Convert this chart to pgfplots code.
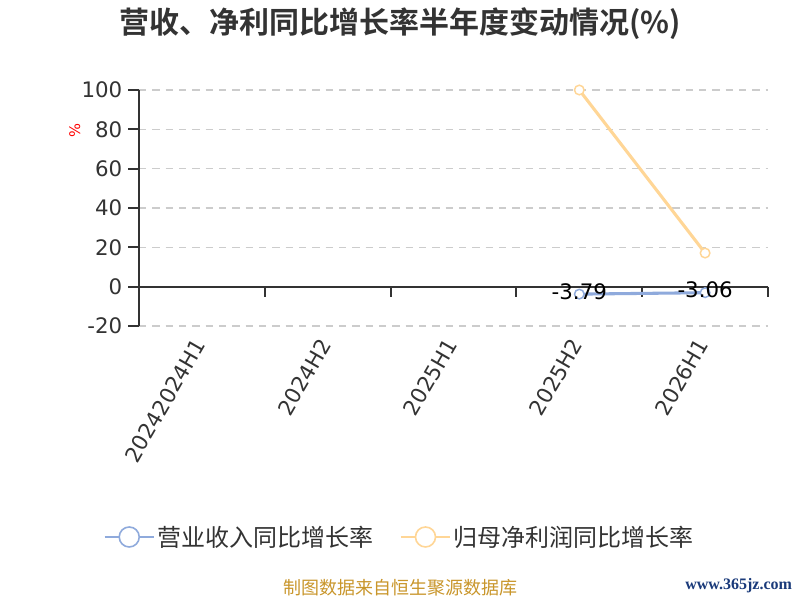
\documentclass[border=0pt]{standalone}
\usepackage{pgfplots}
\pgfplotsset{compat=1.18}
\usepackage{fontspec}
\setmainfont{DejaVu Sans}
\newfontfamily\cjk{Noto Sans CJK SC}[BoldFont={Noto Sans CJK SC Bold}]
\newfontfamily\wwwfont{Liberation Serif}
\definecolor{axc}{HTML}{333333}
\definecolor{gridc}{HTML}{CCCCCC}
\definecolor{blueL}{RGB}{143,170,220}
\definecolor{orangeL}{RGB}{255,214,150}
\definecolor{footc}{RGB}{201,150,43}
\definecolor{wwwc}{RGB}{26,58,122}
\begin{document}
\begin{tikzpicture}
\fill[white] (0,0) rectangle (600pt,450pt);
\useasboundingbox (0,0) rectangle (600pt,450pt);
\node[font=\cjk\bfseries\fontsize{22.5pt}{26pt}\selectfont, text=axc] at (300pt,432pt) {营收、净利同比增长率半年度变动情况(\%)};
\node[font=\fontsize{11pt}{12pt}\selectfont, text=red, rotate=90] at (56pt,352pt) {\%};
\begin{axis}[
  at={(104.25pt,205.5pt)}, anchor=south west,
  scale only axis, width=471.75pt, height=177pt,
  xmin=-0.5, xmax=4.5, ymin=-20, ymax=100,
  axis y line*=left, axis x line*=bottom,
  x axis line style={draw=none},
  y axis line style={draw=axc, line width=1.5pt},
  xtick={0,1,2,3,4},
  xticklabels={20242024H1,2024H2,2025H1,2025H2,2026H1},
  xtick style={draw=none},
  ytick={-20,0,20,40,60,80,100},
  tick align=outside,
  major tick length=8pt,
  ytick style={draw=axc, line width=1.5pt},
  ymajorgrids,
  grid style={draw=gridc, line width=1.1pt, dash pattern=on 5.5pt off 4.5pt},
  /pgf/number format/assume math mode=true,
  tick label style={font=\fontsize{16pt}{18pt}\selectfont, text=axc},
  yticklabel style={xshift=-1pt},
  xticklabel style={rotate=60, anchor=east},
  legend style={at={(0.415,-0.894)}, anchor=center, draw=none, fill=none,
    legend columns=2, font=\cjk\fontsize{18pt}{21pt}\selectfont, text=axc,
    /tikz/every even column/.append style={column sep=18pt}},
  legend image code/.code={
    \draw[#1, mark=none, line width=1.2pt] (0pt,0pt) -- (37pt,0pt);
    \draw[#1, mark=none, line width=1.2pt, fill=white] (18.5pt,0pt) circle (7.5pt);
  },
  clip=false,
]
\draw[axc, line width=1.5pt] (axis cs:-0.5,0) -- (axis cs:4.5,0);
\pgfplotsinvokeforeach{0.5,1.5,2.5,3.5,4.5}{
  \draw[axc, line width=1.5pt] (axis cs:#1,0) -- ([yshift=-7.5pt]axis cs:#1,0);
}
\addplot[color=blueL, line width=2.3pt, mark=*, mark size=3.6pt,
  mark options={fill=white, line width=1.1pt, draw=blueL},
  nodes near coords, point meta=explicit symbolic,
  every node near coord/.append style={anchor=center, yshift=2pt, text=black,
    font=\fontsize{16pt}{18pt}\selectfont}]
  coordinates {(3,-3.79) [-3.79] (4,-3.06) [-3.06]};
\addlegendentry{营业收入同比增长率}
\addplot[color=orangeL, line width=2.3pt, mark=*, mark size=3.6pt,
  mark options={fill=white, line width=1.1pt, draw=orangeL}]
  coordinates {(3,100) (4,17.1)};
\addlegendentry{归母净利润同比增长率}
\end{axis}
\node[font=\cjk\fontsize{13.5pt}{15pt}\selectfont, text=footc] at (300pt,9pt) {制图数据来自恒生聚源数据库};
\node[font=\wwwfont\bfseries\fontsize{12pt}{14pt}\selectfont, text=wwwc] at (554pt,11pt) {www.365jz.com};
\end{tikzpicture}
\end{document}
